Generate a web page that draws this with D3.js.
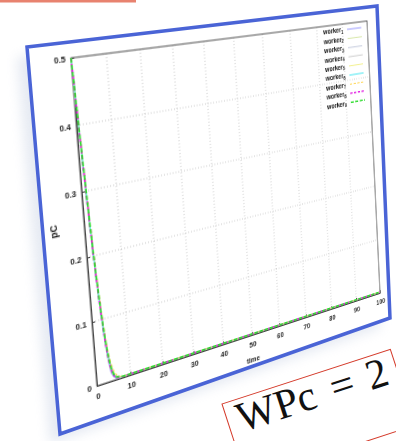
<!DOCTYPE html>
<html><head><meta charset="utf-8">
<script src="https://cdn.jsdelivr.net/npm/d3@7"></script>
<style>
html,body{margin:0;padding:0;background:#fff;}
body{width:396px;height:441px;overflow:hidden;position:relative;}
#deco{position:absolute;left:0;top:0;}
#chart{position:absolute;left:0;top:0;transform-origin:0 0;}
#chart text{font-family:"Liberation Sans",Arial,sans-serif;}
</style></head><body>
<svg id="deco" width="396" height="441"></svg>
<div id="chart"></div>
<script>
// ---------------- data ----------------
const times   = [0, 1, 2, 3, 4, 5, 6, 7, 8, 10, 20, 30, 40, 50, 60, 70, 80, 90, 100];
const worker1 = [0.5, 0.330, 0.185, 0.085, 0.026, 0.006, 0.002, 0.002, 0.002, 0.002, 0.002, 0.002, 0.002, 0.002, 0.002, 0.002, 0.002, 0.002, 0.002];
const worker2 = [0.5, 0.335, 0.190, 0.090, 0.031, 0.009, 0.003, 0.002, 0.002, 0.002, 0.002, 0.002, 0.002, 0.002, 0.002, 0.002, 0.002, 0.002, 0.002];
const worker3 = [0.5, 0.340, 0.195, 0.095, 0.035, 0.010, 0.003, 0.002, 0.002, 0.002, 0.002, 0.002, 0.002, 0.002, 0.002, 0.002, 0.002, 0.002, 0.002];
const worker4 = [0.5, 0.338, 0.193, 0.093, 0.034, 0.010, 0.003, 0.002, 0.002, 0.002, 0.002, 0.002, 0.002, 0.002, 0.002, 0.002, 0.002, 0.002, 0.002];
const worker5 = [0.5, 0.345, 0.200, 0.100, 0.040, 0.014, 0.005, 0.002, 0.002, 0.002, 0.002, 0.002, 0.002, 0.002, 0.002, 0.002, 0.002, 0.002, 0.002];
const worker6 = [0.5, 0.338, 0.192, 0.092, 0.036, 0.012, 0.004, 0.002, 0.002, 0.002, 0.002, 0.002, 0.002, 0.002, 0.002, 0.002, 0.002, 0.002, 0.002];
const worker7 = [0.5, 0.348, 0.205, 0.105, 0.045, 0.018, 0.007, 0.003, 0.002, 0.002, 0.002, 0.002, 0.002, 0.002, 0.002, 0.002, 0.002, 0.002, 0.002];
const worker8 = [0.5, 0.336, 0.190, 0.090, 0.032, 0.009, 0.003, 0.002, 0.002, 0.002, 0.002, 0.002, 0.002, 0.002, 0.002, 0.002, 0.002, 0.002, 0.002];
const worker9 = [0.5, 0.342, 0.196, 0.096, 0.037, 0.011, 0.004, 0.003, 0.002, 0.002, 0.002, 0.002, 0.002, 0.002, 0.002, 0.002, 0.002, 0.002, 0.002];
const seriesValues = [worker1, worker2, worker3, worker4, worker5, worker6, worker7, worker8, worker9];
const seriesIndex  = ["1", "2", "3", "4", "5", "6", "7", "8", "9"];
const seriesPrefix = "worker";
const xTicks = [0, 10, 20, 30, 40, 50, 60, 70, 80, 90, 100];
const yTicks = [0, 0.1, 0.2, 0.3, 0.4, 0.5];
const xLabel = "time";
const yLabel = "pC";
const formulaParts = ["WPc", "=", "2"];

// ---------------- styles ----------------
const colors = ["#9a9aff", "#d6e6a6", "#c4cadc", "#cccccc", "#f2f08a", "#44e6f0", "#ffd44a", "#e21ee2", "#2edc2e"];
const dashes = [null, null, null, null, null, null, "3,2", "3,2", "4,2"];
const widths = [1, 1, 1, 1, 1, 1, 1, 1.6, 1.6];

// ---------------- decoration (page coords) ----------------
const deco = d3.select("#deco");
const frame = [[27,47],[377,6],[390,318],[60,434]];
const defs = deco.append("defs");
defs.append("filter").attr("id","blur").attr("x","-20%").attr("y","-20%").attr("width","140%").attr("height","140%")
  .append("feGaussianBlur").attr("stdDeviation", 6);
deco.append("polygon")
  .attr("points", frame.map(p => [p[0]-10, p[1]+10].join(",")).join(" "))
  .attr("fill", "#b8c4dc").attr("opacity", 0.35).attr("filter", "url(#blur)");
deco.append("polygon")
  .attr("points", frame.map(p => p.join(",")).join(" "))
  .attr("fill", "#fff").attr("stroke", "#4a64d6").attr("stroke-width", 3.5).attr("stroke-linejoin","miter");
deco.append("rect").attr("x",0).attr("y",0).attr("width",136).attr("height",2.5).attr("fill","#e8826f");

const fg = deco.append("g").attr("transform","translate(222,404) rotate(-18)");
fg.append("rect").attr("x",0).attr("y",0).attr("width",177).attr("height",80)
  .attr("fill","none").attr("stroke","#d43a2a").attr("stroke-width",1);
const ft = fg.append("text").attr("y",33).attr("font-family","'Liberation Serif','DejaVu Serif',serif")
  .attr("font-size",42).attr("fill","#111");
const fx = [10, 108, 146];
formulaParts.forEach((s,i) => ft.append("tspan").attr("x", fx[i]).text(s));

// ---------------- chart (flat coords, then projected) ----------------
const ml = 45, mt = 12, pw = 330, ph = 290, mr = 14, mb = 40;
const W = ml + pw + mr, H = mt + ph + mb;

function homography(src, dst){
  const A = [];
  for (let i = 0; i < 4; i++){
    const [x,y] = src[i], [u,v] = dst[i];
    A.push([x,y,1,0,0,0,-u*x,-u*y,u]);
    A.push([0,0,0,x,y,1,-v*x,-v*y,v]);
  }
  const n = 8;
  for (let c = 0; c < n; c++){
    let p = c;
    for (let r = c+1; r < n; r++) if (Math.abs(A[r][c]) > Math.abs(A[p][c])) p = r;
    [A[c],A[p]] = [A[p],A[c]];
    for (let r = 0; r < n; r++){
      if (r === c) continue;
      const f = A[r][c] / A[c][c];
      for (let k = c; k <= n; k++) A[r][k] -= f * A[c][k];
    }
  }
  return A.map((row,i) => row[n] / row[i]);
}
const src = [[ml,mt],[ml+pw,mt],[ml+pw,mt+ph],[ml,mt+ph]];
const dst = [[71,58],[367,21],[380,293],[97,386]];
const h = homography(src, dst);
const m3d = [h[0],h[3],0,h[6], h[1],h[4],0,h[7], 0,0,1,0, h[2],h[5],0,1];

const chartDiv = d3.select("#chart")
  .style("width", W + "px").style("height", H + "px")
  .style("transform", "matrix3d(" + m3d.join(",") + ")");

const svg = chartDiv.append("svg").attr("width", W).attr("height", H).style("overflow","visible");
const g = svg.append("g").attr("transform", `translate(${ml},${mt})`);

const x = d3.scaleLinear().domain([0,100]).range([0,pw]);
const y = d3.scaleLinear().domain([0,0.5]).range([ph,0]);

// grid
g.append("g").selectAll("line").data(xTicks.slice(1,-1)).join("line")
  .attr("x1", d => x(d)).attr("x2", d => x(d)).attr("y1", 0).attr("y2", ph)
  .attr("stroke","#bdbdbd").attr("stroke-width",0.8).attr("stroke-dasharray","1,2");
g.append("g").selectAll("line").data(yTicks.slice(1,-1)).join("line")
  .attr("y1", d => y(d)).attr("y2", d => y(d)).attr("x1", 0).attr("x2", pw)
  .attr("stroke","#bdbdbd").attr("stroke-width",0.8).attr("stroke-dasharray","1,2");

// box
g.append("rect").attr("width",pw).attr("height",ph).attr("fill","none").attr("stroke","#555").attr("stroke-width",1);

// axes
const xAxis = g.append("g").attr("transform",`translate(0,${ph})`)
  .call(d3.axisBottom(x).tickValues(xTicks).tickSizeInner(-3).tickSizeOuter(0).tickPadding(5).tickFormat(d3.format("d")));
const yAxis = g.append("g")
  .call(d3.axisLeft(y).tickValues(yTicks).tickSizeInner(-3).tickSizeOuter(0).tickPadding(5).tickFormat(d => d === 0 ? "0" : d3.format(".1f")(d)));
[xAxis, yAxis].forEach(a => {
  a.select(".domain").attr("stroke","#444");
  a.selectAll(".tick line").attr("stroke","#444");
  a.selectAll(".tick text").attr("fill","#222").attr("font-size",7.5).attr("font-weight","bold")
    .attr("font-family","'Liberation Sans',Arial,sans-serif");
});
xAxis.selectAll(".tick text").attr("dy","0.9em");

// labels
g.append("text").attr("x", pw/2).attr("y", ph + 27).attr("text-anchor","middle")
  .attr("font-size",7.5).attr("font-weight","bold").attr("fill","#222").text(xLabel);
g.append("text").attr("transform",`translate(-28,${ph/2}) rotate(-90)`).attr("text-anchor","middle")
  .attr("dy","0.35em").attr("font-size",8.5).attr("font-weight","bold").attr("fill","#222").text(yLabel);

// lines
const line = d3.line().x((d,i) => x(times[i])).y(d => y(d)).curve(d3.curveMonotoneX);
const lg = g.append("g");
seriesValues.forEach((vals,i) => {
  lg.append("path").attr("d", line(vals)).attr("fill","none")
    .attr("stroke", colors[i]).attr("stroke-width", widths[i])
    .attr("stroke-dasharray", dashes[i]);
});

// legend
const leg = g.append("g").attr("transform","translate(272,6)");
seriesIndex.forEach((s,i) => {
  const row = leg.append("g").attr("transform",`translate(0,${i*9.4})`);
  const t = row.append("text").attr("dy","0.35em").attr("font-size",7).attr("font-weight","bold").attr("fill","#111");
  t.append("tspan").text(seriesPrefix);
  t.append("tspan").attr("font-size",5).attr("dy","0.25em").text(s);
  row.append("line").attr("x1",31).attr("x2",50).attr("y1",0).attr("y2",0)
    .attr("stroke", colors[i]).attr("stroke-width", widths[i]).attr("stroke-dasharray", dashes[i]);
});
</script>
</body></html>
